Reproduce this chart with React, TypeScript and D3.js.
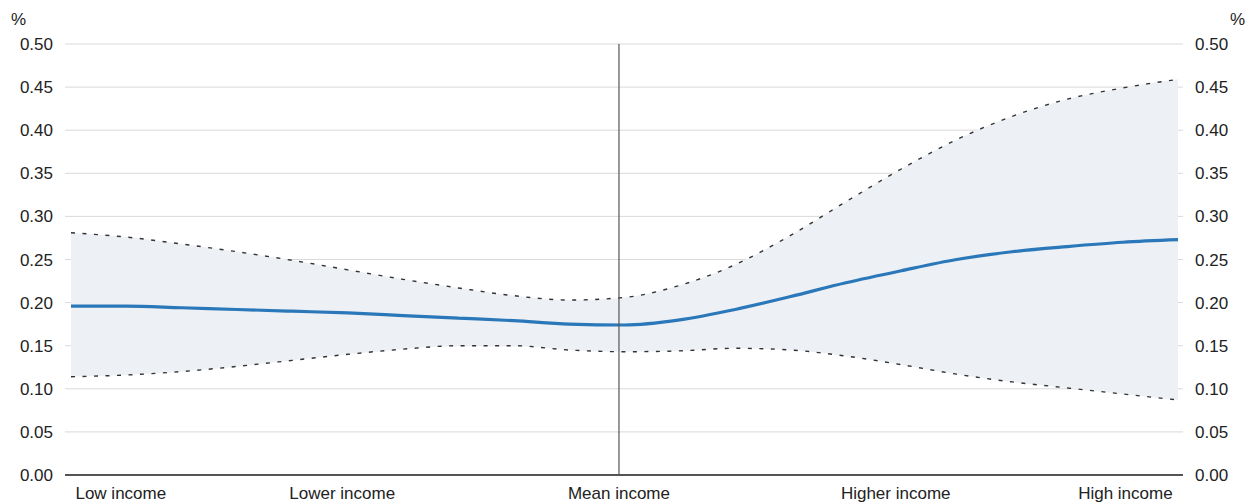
import React from "react";
import * as d3 from "d3";

// Position along the income distribution (0 = low, 20 = high)
const positions = [0, 1, 2, 3, 4, 5, 6, 7, 8, 9, 10, 11, 12, 13, 14, 15, 16, 17, 18, 19, 20];
const central = [0.196, 0.196, 0.194, 0.192, 0.19, 0.188, 0.185, 0.182, 0.179, 0.175, 0.174, 0.18, 0.192, 0.207, 0.223, 0.237, 0.25, 0.259, 0.265, 0.27, 0.273];
const upper = [0.281, 0.276, 0.268, 0.259, 0.249, 0.238, 0.227, 0.217, 0.208, 0.203, 0.206, 0.22, 0.244, 0.278, 0.317, 0.355, 0.389, 0.416, 0.436, 0.449, 0.459];
const lower = [0.114, 0.116, 0.12, 0.126, 0.133, 0.14, 0.146, 0.15, 0.15, 0.145, 0.143, 0.144, 0.147, 0.145, 0.138, 0.128, 0.117, 0.108, 0.101, 0.094, 0.087];
const meanPosition = 9.9;
const categoryLabels = ["Low income", "Lower income", "Mean income", "Higher income", "High income"];
const categoryPositions = [0.9, 4.9, 9.9, 14.9, 19.05];
const yTicks = [0, 0.05, 0.1, 0.15, 0.2, 0.25, 0.3, 0.35, 0.4, 0.45, 0.5];

const W = 1252;
const H = 502;
const plotLeft = 65;
const plotRight = 1183;
const dataLeft = 71;
const dataRight = 1178;
const yTop = 44;
const yBottom = 475;

export default function App() {
  const x = d3.scaleLinear().domain([0, 20]).range([dataLeft, dataRight]);
  const y = d3.scaleLinear().domain([0, 0.5]).range([yBottom, yTop]);
  const pts = positions.map((p, i) => ({ p, c: central[i], u: upper[i], l: lower[i] }));
  const curve = d3.curveMonotoneX;
  const area = d3.area<any>().x((d) => x(d.p)).y0((d) => y(d.l)).y1((d) => y(d.u)).curve(curve);
  const lineC = d3.line<any>().x((d) => x(d.p)).y((d) => y(d.c)).curve(curve);
  const lineU = d3.line<any>().x((d) => x(d.p)).y((d) => y(d.u)).curve(curve);
  const lineL = d3.line<any>().x((d) => x(d.p)).y((d) => y(d.l)).curve(curve);
  const font = "'Liberation Sans', Arial, sans-serif";
  const fmt = d3.format(".2f");
  return (
    <svg width={W} height={H} style={{ position: "absolute", left: 0, top: 0 }} fontFamily={font}>
      <rect width={W} height={H} fill="#fff" />
      {yTicks.filter((t) => t > 0).map((t) => (
        <line key={t} x1={plotLeft} x2={plotRight} y1={y(t)} y2={y(t)} stroke="#d9d9d9" strokeWidth={1} />
      ))}
      <path d={area(pts) || ""} fill="#edf0f5" />
      <path d={lineU(pts) || ""} fill="none" stroke="#333" strokeWidth={1.4} strokeDasharray="4,7.5" />
      <path d={lineL(pts) || ""} fill="none" stroke="#333" strokeWidth={1.4} strokeDasharray="4,7.5" />
      <path d={lineC(pts) || ""} fill="none" stroke="#2a78b9" strokeWidth={3.2} />
      <line x1={x(meanPosition)} x2={x(meanPosition)} y1={y(0.5)} y2={y(0)} stroke="#555" strokeWidth={1.2} />
      <line x1={plotLeft} x2={plotRight} y1={y(0)} y2={y(0)} stroke="#555" strokeWidth={2} />
      {yTicks.map((t) => (
        <g key={"l" + t}>
          <text x={53} y={y(t) + 6} textAnchor="end" fontSize={17} fill="#222">{fmt(t)}</text>
          <text x={1195} y={y(t) + 6} textAnchor="start" fontSize={17} fill="#222">{fmt(t)}</text>
        </g>
      ))}
      <text x={11} y={25} fontSize={17} fill="#222">%</text>
      <text x={1245} y={25} fontSize={17} fill="#222" textAnchor="end">%</text>
      {categoryLabels.map((c, i) => (
        <text key={c} x={x(categoryPositions[i])} y={499} textAnchor="middle" fontSize={17} fill="#222">{c}</text>
      ))}
    </svg>
  );
}
